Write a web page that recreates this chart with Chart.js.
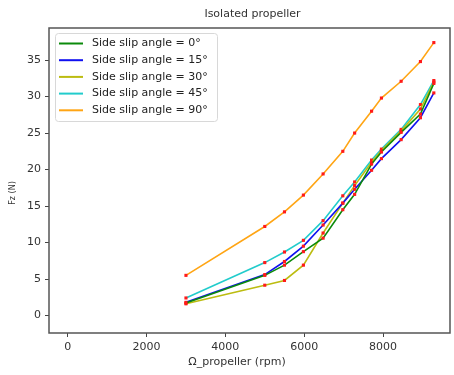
<!DOCTYPE html>
<html>
<head>
<meta charset="utf-8">
<script src="https://cdn.jsdelivr.net/npm/chart.js@4.4.1/dist/chart.umd.min.js"></script>
<style>
  html, body { margin: 0; padding: 0; background: #fff; }
  #wrap { width: 454px; height: 375px; }
</style>
</head>
<body>
<div id="wrap"><canvas id="chart" width="454" height="375"></canvas></div>
<script>
// rotor speed (rpm) at each measurement
const rpm = [3000, 5000, 5500, 5980, 6480, 6980, 7280, 7710, 7960, 8460, 8950, 9290];

const labels = [
    'Side slip angle = 0°',
    'Side slip angle = 15°',
    'Side slip angle = 30°',
    'Side slip angle = 45°',
    'Side slip angle = 90°'
];
const colors = ['#0b8a0b', '#1010f0', '#bcbc10', '#22cccc', '#ffa514'];

// Fz (N) for each side slip angle
const fz0  = [1.7, 5.5, 6.9, 8.75, 10.6, 14.5, 16.6, 20.75, 22.4, 25.1, 27.6, 31.8];
const fz15 = [1.8, 5.6, 7.4, 9.5, 12.4, 15.4, 17.3, 19.9, 21.5, 24.1, 27.1, 30.5];
const fz30 = [1.6, 4.15, 4.8, 6.9, 11.3, 15.4, 17.8, 21.0, 22.6, 25.3, 28.3, 32.0];
const fz45 = [2.4, 7.25, 8.7, 10.3, 13.0, 16.4, 18.3, 21.3, 22.8, 25.5, 28.9, 32.2];
const fz90 = [5.5, 12.2, 14.2, 16.5, 19.4, 22.5, 25.0, 28.0, 29.8, 32.1, 34.8, 37.4];

const series = [fz0, fz15, fz30, fz45, fz90];

// axis tick labels
const xTicks = [0, 2000, 4000, 6000, 8000];
const yTicks = [0, 5, 10, 15, 20, 25, 30, 35];

const font = 'DejaVu Sans';

const datasets = series.map((s, i) => ({
    label: labels[i],
    data: s.map((v, j) => ({ x: rpm[j], y: v })),
    borderColor: colors[i],
    borderWidth: 1.6,
    pointStyle: 'rect',
    pointRadius: 2.2,
    pointBackgroundColor: '#ff1a1a',
    pointBorderWidth: 0,
    tension: 0
}));

// frame, title, axis titles and in-plot legend
const decor = {
    id: 'decor',
    afterDraw(chart) {
        const { ctx, chartArea: a } = chart;
        ctx.save();
        ctx.strokeStyle = '#555';
        ctx.lineWidth = 1.5;
        ctx.strokeRect(a.left, a.top, a.right - a.left, a.bottom - a.top);

        ctx.fillStyle = '#333';
        ctx.textAlign = 'center';
        ctx.textBaseline = 'middle';
        ctx.font = '11px "' + font + '"';
        ctx.fillText('Isolated propeller', (a.left + a.right) / 2 + 3, 14);
        ctx.fillText('Ω_propeller (rpm)', 237, 362);

        ctx.save();
        ctx.translate(13, 193);
        ctx.rotate(-Math.PI / 2);
        ctx.font = '8px "' + font + '"';
        ctx.fillText('Fz (N)', 0, 0);
        ctx.restore();

        // legend box
        const bx = 55, by = 33, bw = 162, bh = 88;
        ctx.fillStyle = 'rgba(255,255,255,0.9)';
        ctx.strokeStyle = '#d8d8d8';
        ctx.lineWidth = 1;
        ctx.beginPath();
        ctx.roundRect(bx + 0.5, by + 0.5, bw, bh, 3);
        ctx.fill();
        ctx.stroke();
        ctx.textAlign = 'left';
        ctx.font = '11px "' + font + '"';
        labels.forEach((t, i) => {
            const y = 43.5 + i * 16.7;
            ctx.strokeStyle = colors[i];
            ctx.lineWidth = 2;
            ctx.beginPath();
            ctx.moveTo(59, y);
            ctx.lineTo(83, y);
            ctx.stroke();
            ctx.fillStyle = '#222';
            ctx.fillText(t, 92, y);
        });
        ctx.restore();
    }
};

new Chart(document.getElementById('chart'), {
    type: 'line',
    data: { datasets },
    options: {
        responsive: false,
        animation: false,
        layout: { padding: { top: 28, right: 2, left: 0, bottom: 0 } },
        plugins: {
            legend: { display: false },
            title: { display: false },
            tooltip: { enabled: false }
        },
        scales: {
            x: {
                type: 'linear',
                min: -475,
                max: 9700,
                afterFit: (s) => { s.height = 42; },
                afterBuildTicks: (s) => { s.ticks = xTicks.map(v => ({ value: v })); },
                border: { display: false },
                grid: { drawOnChartArea: false, drawTicks: true, tickLength: 4, color: '#444' },
                ticks: {
                    padding: 4,
                    color: '#333',
                    font: { family: font, size: 11 },
                    callback: (v) => String(v)
                }
            },
            y: {
                min: -2.4,
                max: 39.4,
                afterFit: (s) => { s.width = 49; },
                afterBuildTicks: (s) => { s.ticks = yTicks.map(v => ({ value: v })); },
                border: { display: false },
                grid: { drawOnChartArea: false, drawTicks: true, tickLength: 4, color: '#444' },
                ticks: {
                    padding: 4,
                    color: '#333',
                    font: { family: font, size: 11 },
                    callback: (v) => String(v)
                }
            }
        }
    },
    plugins: [decor]
});
</script>
</body>
</html>
